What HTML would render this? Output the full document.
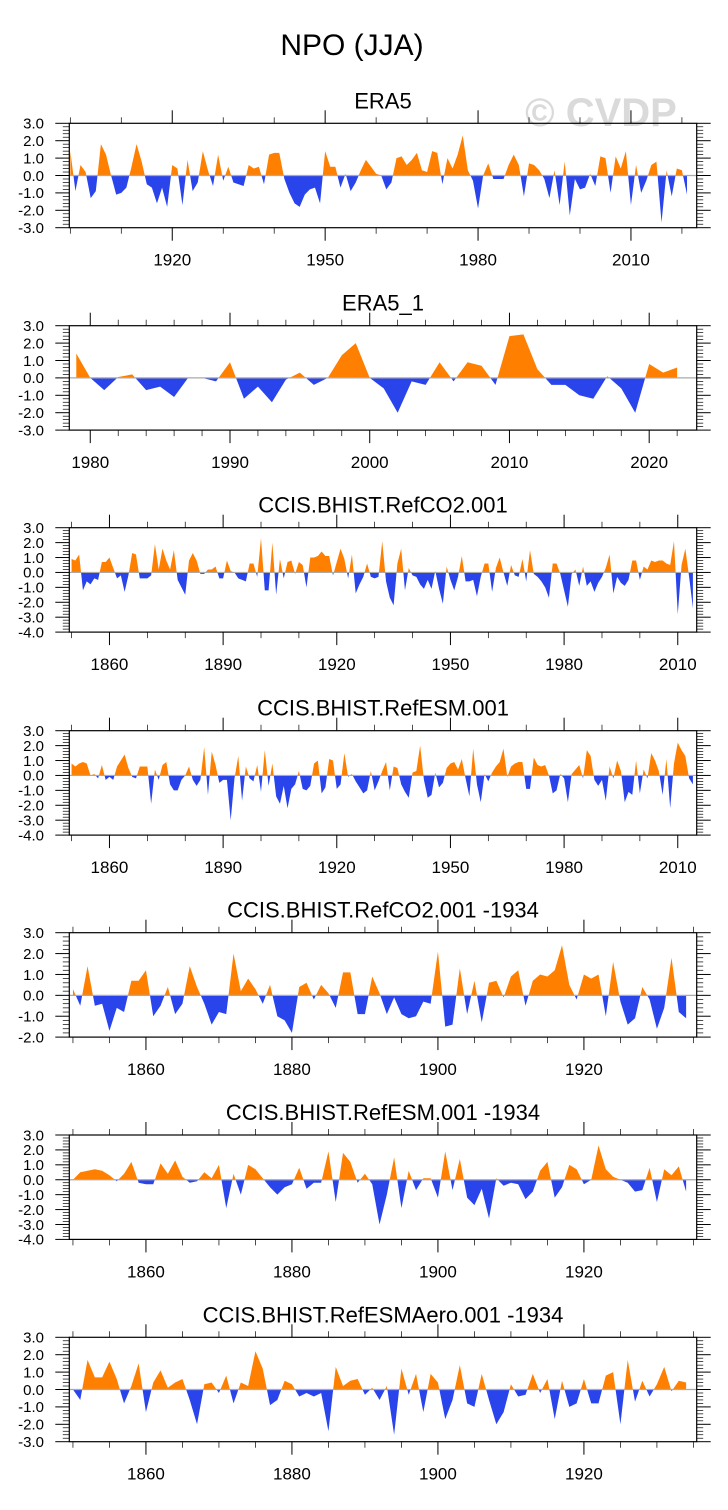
<!DOCTYPE html>
<html><head><meta charset="utf-8"><style>
html,body{margin:0;padding:0;background:#fff;}
svg{display:block;font-family:"Liberation Sans",Arial,sans-serif;}
</style></head><body>
<svg id="chart" width="728" height="1510" viewBox="0 0 728 1510">
<text x="352" y="55" font-size="30" text-anchor="middle" fill="#000">NPO (JJA)</text>
<text x="601" y="126" font-size="40" font-weight="bold" text-anchor="middle" fill="#dadada">© CVDP</text>
</svg>
<script>
const panelTitles = ["ERA5","ERA5_1","CCIS.BHIST.RefCO2.001","CCIS.BHIST.RefESM.001","CCIS.BHIST.RefCO2.001 -1934","CCIS.BHIST.RefESM.001 -1934","CCIS.BHIST.RefESMAero.001 -1934"];
const startYears = [1900,1979,1850,1850,1850,1850,1850];
const era5Values = [1.4,-0.9,0.6,0.2,-1.3,-0.9,1.8,1.2,0.0,-1.1,-1.0,-0.7,0.5,1.8,0.8,-0.5,-0.7,-1.6,-0.7,-1.8,0.6,0.4,-1.7,0.9,-0.9,-0.4,1.4,0.3,-0.6,1.2,-0.3,0.5,-0.4,-0.5,-0.6,0.6,0.4,0.5,-0.5,1.2,1.3,1.3,-0.2,-1.0,-1.6,-1.8,-1.1,-0.8,-0.7,-1.6,1.4,0.5,0.5,-0.7,0.1,-0.9,-0.4,0.3,0.9,0.5,0.1,0.0,-0.8,-0.4,1.0,1.1,0.6,0.9,1.3,0.3,0.2,1.4,1.3,-0.5,1.0,0.4,1.2,2.3,0.3,-0.3,-1.9,0.0,0.7,-0.2,-0.2,-0.2,0.6,1.2,0.6,-1.2,0.7,0.6,0.3,-0.2,-1.3,0.3,-1.7,0.8,-2.3,-0.2,-0.8,-0.7,0.1,-0.6,1.1,1.0,-1.0,1.1,0.4,1.4,-1.7,0.6,-1.0,-0.3,0.6,0.8,-2.7,0.3,-1.2,0.4,0.3,-1.1];
const era5_1Values = [1.4,0.0,-0.7,0.05,0.2,-0.7,-0.5,-1.1,0.0,0.0,-0.2,0.9,-1.2,-0.5,-1.4,-0.1,0.3,-0.4,0.0,1.3,2.0,0.0,-0.6,-2.0,-0.2,-0.4,0.9,-0.2,0.9,0.7,-0.4,2.4,2.5,0.5,-0.4,-0.4,-1.0,-1.2,0.1,-0.6,-2.0,0.8,0.3,0.6];
const refCO2Values = [0.9,0.8,1.2,-1.2,-0.6,-0.8,-0.4,-0.5,0.7,0.7,1.0,0.3,-0.4,-0.2,-1.3,-0.2,1.3,1.2,-0.4,-0.4,-0.4,-0.2,1.9,0.2,1.6,0.8,0.2,1.5,-0.5,-1.0,-1.5,0.8,1.3,0.8,-0.1,-0.1,0.2,0.2,0.4,-0.4,-0.4,0.8,0.1,0.0,-0.4,-0.5,-0.6,0.6,0.6,-0.3,2.3,-1.2,-1.2,2.0,-1.5,0.9,-0.4,0.7,0.8,-0.1,0.7,0.5,-1.0,1.0,1.0,1.1,1.4,1.1,1.1,-0.2,0.7,1.6,0.9,-0.4,1.2,-1.4,-0.8,-0.3,0.6,-0.3,-0.4,-0.3,2.1,-0.6,-1.7,-2.2,0.6,1.6,-1.2,0.3,-0.2,-0.3,-0.8,-1.1,-0.5,-1.1,0.1,-1.1,-2.1,0.4,-0.5,-1.2,-0.3,1.1,-0.6,-0.6,-0.5,-1.6,-0.3,0.6,0.6,-1.3,0.3,1.0,0.0,-0.9,0.5,-0.2,-0.3,0.9,-0.6,1.5,-0.1,-0.3,-0.6,-1.0,-1.7,0.6,0.6,-0.1,-1.2,-2.3,-0.1,0.2,-0.9,0.4,-0.9,-0.6,-1.3,-0.7,-0.3,0.3,1.2,-1.4,-0.3,-0.7,-0.9,-0.5,0.8,0.8,-0.5,0.4,0.2,0.8,0.7,0.8,0.8,0.6,0.5,2.1,-2.8,0.5,1.6,-0.3,-2.4];
const refESMValues = [0.8,0.6,0.8,0.9,0.8,0.0,0.1,-0.2,0.7,-0.3,-0.1,-0.3,0.6,1.0,1.4,0.5,-0.1,-0.2,0.6,0.6,0.6,-1.9,0.4,-0.3,0.7,0.9,-0.6,-1.0,-1.0,-0.3,0.0,0.6,-0.3,-0.7,-0.3,1.9,-1.3,1.6,0.7,-0.5,-0.3,-0.3,-3.0,-0.2,1.3,-1.7,0.6,-0.2,-0.4,0.7,-1.1,1.7,-0.7,0.8,-1.4,-1.9,-0.7,-2.2,-0.9,-0.6,0.3,-0.9,-1.0,-0.7,0.8,1.0,-1.2,-0.8,1.1,1.0,-0.9,-0.6,1.5,-0.1,0.1,-0.4,-0.8,-1.2,-1.0,0.3,-1.0,-0.4,0.3,0.9,-1.0,0.6,0.5,-0.6,-1.1,-1.5,0.2,0.3,2.0,-0.3,-1.5,-1.3,0.2,-0.8,-0.5,0.5,0.8,0.9,0.4,1.1,-0.2,-1.4,1.8,-0.6,-1.8,0.1,-0.4,0.2,0.6,0.9,1.8,-0.1,0.6,0.8,0.9,0.9,-0.9,-0.9,1.2,0.7,0.6,0.7,0.0,-1.2,-1.0,0.1,-0.2,-1.8,0.1,0.4,0.7,-0.2,1.7,1.3,-0.3,-0.7,-0.3,-1.7,0.6,-0.2,1.0,0.3,-1.8,-1.1,-1.3,1.0,-1.2,0.4,-0.2,1.5,1.0,0.3,-1.3,1.1,-2.2,0.8,2.2,1.7,1.3,-0.2,-0.6];
const refCO2to1934Values = [0.3,-0.5,1.4,-0.5,-0.4,-1.7,-0.6,-0.8,0.7,0.7,1.2,-1.0,-0.5,0.4,-0.9,-0.4,1.4,0.4,-0.4,-1.4,-0.8,-0.9,2.0,0.2,0.8,0.3,-0.4,0.5,-1.0,-1.2,-1.8,0.4,0.6,-0.2,0.5,0.1,-0.6,1.1,1.1,-0.9,-0.9,0.9,0.1,-0.9,-0.1,-0.9,-1.1,-1.0,-0.3,-0.4,2.1,-1.5,-1.4,1.3,-0.9,0.7,-1.3,0.6,0.7,-0.1,0.9,1.2,-0.5,0.7,1.0,0.9,1.2,2.4,0.5,-0.2,1.0,0.8,1.0,-1.0,1.6,-0.3,-1.4,-1.1,0.4,-0.2,-1.6,-0.6,1.8,-0.8,-1.1];
const refESMto1934Values = [0.0,0.5,0.6,0.7,0.6,0.3,-0.1,0.4,1.2,-0.2,-0.3,-0.3,1.1,0.4,1.3,0.2,-0.2,-0.1,0.5,0.1,1.0,-1.9,0.4,-1.0,1.0,0.7,0.1,-0.5,-1.0,-0.5,-0.3,0.8,-0.6,-0.2,-0.2,1.9,-1.5,1.8,1.2,-0.2,0.4,-0.3,-3.0,-1.0,1.5,-1.9,0.6,-0.7,0.1,0.1,-1.2,1.9,-0.7,1.4,-1.2,-1.7,-0.6,-2.6,0.1,-0.4,-0.2,-0.3,-1.3,-0.8,0.6,1.2,-1.2,-0.5,1.0,0.7,-0.3,0.0,2.3,0.7,0.2,0.0,-0.2,-0.8,-0.7,0.8,-1.5,0.7,0.3,0.9,-0.8];
const refESMAeroValues = [0.0,-0.6,1.7,0.7,0.7,1.6,0.6,-0.8,0.2,1.5,-1.3,0.4,1.1,0.1,0.4,0.6,-0.6,-2.0,0.3,0.4,-0.2,0.8,-0.8,0.4,0.2,2.2,1.2,-0.9,-0.6,0.5,0.3,-0.4,-0.2,-0.4,-0.2,-2.4,1.3,0.2,0.5,0.6,-0.3,0.1,-0.6,0.2,-2.6,1.2,-0.3,0.9,-1.3,0.9,0.4,-1.7,-0.6,1.4,-0.8,-1.0,0.9,-0.6,-2.0,-1.3,0.3,-0.4,-0.3,0.9,-0.2,0.6,-1.7,0.5,-1.0,-0.8,0.6,-0.8,-0.8,0.8,1.0,-2.0,1.7,-0.7,0.5,-0.4,0.3,1.3,-0.1,0.5,0.4];
const seriesValues = [era5Values,era5_1Values,refCO2Values,refESMValues,refCO2to1934Values,refESMto1934Values,refESMAeroValues];
const yMins = [-3,-3,-4,-4,-2,-4,-3];
const yMax = 3;
const xDomains = [[1899.8,2022.9],[1978.5,2023.4],[1849.4,2015.0],[1849.4,2015.0],[1849.5,1935.45],[1849.5,1935.45],[1849.5,1935.45]];
const xTickLabels = [[1920,1950,1980,2010],[1980,1990,2000,2010,2020],[1860,1890,1920,1950,1980,2010],[1860,1890,1920,1950,1980,2010],[1860,1880,1900,1920],[1860,1880,1900,1920],[1860,1880,1900,1920]];
const xMinorSteps = [10,2,10,10,5,5,5];

const NS="http://www.w3.org/2000/svg";
const svg=document.getElementById('chart');
const panelTops=[123.3,325.7,527.7,730.7,932.7,1135,1337.3];
const BX0=69.3,BX1=696.7,BH=104.4;
function mk(tag,attrs,parent){const e=document.createElementNS(NS,tag);for(const k in attrs)e.setAttribute(k,attrs[k]);(parent||svg).appendChild(e);return e;}

panelTitles.forEach((title,p)=>{
  const top=panelTops[p],bot=top+BH;
  const ymin=yMins[p];
  const [xa,xb]=xDomains[p];
  const xs=yr=>BX0+(yr-xa)/(xb-xa)*(BX1-BX0);
  const ys=v=>bot-(v-ymin)/(yMax-ymin)*BH;
  const g=mk('g',{});
  
  
  const t=mk('text',{x:(BX0+BX1)/2,y:top-15,'font-size':22,'text-anchor':'middle'},g);
  t.textContent=title;
  
  
  const z=ys(0);
  const vals=seriesValues[p];
  let d='M'+xs(startYears[p]).toFixed(2)+','+z.toFixed(2);
  vals.forEach((v,i)=>{d+=' L'+xs(startYears[p]+i).toFixed(2)+','+ys(v).toFixed(2);});
  d+=' L'+xs(startYears[p]+vals.length-1).toFixed(2)+','+z.toFixed(2)+' Z';
  const cpA=mk('clipPath',{id:'ca'+p},g);mk('rect',{x:BX0,y:top,width:BX1-BX0,height:z-top},cpA);
  const cpB=mk('clipPath',{id:'cb'+p},g);mk('rect',{x:BX0,y:z,width:BX1-BX0,height:bot-z},cpB);
  const pos=mk('path',{d:d,fill:'#ff8000','clip-path':'url(#ca'+p+')'},g);
  
  
  const neg=mk('path',{d:d,fill:'#2a44ec','clip-path':'url(#cb'+p+')'},g);
  
  
  const zl=mk('line',{x1:BX0,x2:BX1,y1:z,y2:z,stroke:'#aaaaaa','stroke-width':1.2},g);
  
  
  const box=mk('rect',{x:BX0,y:top,width:BX1-BX0,height:BH,fill:'none',stroke:'#000','stroke-width':1.2},g);
  
  
  for(let k=Math.round(ymin*5);k<=yMax*5;k++){
    const v=k/5,y=ys(v),major=(k%5===0),L=major?14:6.5;
    mk('line',{x1:BX0-L,x2:BX0,y1:y,y2:y,stroke:'#000','stroke-width':major?1:0.7},g);
    mk('line',{x1:BX1,x2:BX1+L,y1:y,y2:y,stroke:'#000','stroke-width':major?1:0.7},g);
    if(major){
      const lt=mk('text',{x:44,y:y+5.3,'font-size':15,'text-anchor':'end'},g);
      lt.textContent=v.toFixed(1);
      
      
    }
  }
  const st=xMinorSteps[p];
  for(let yr=Math.ceil(xa/st)*st;yr<=xb;yr+=st){
    const x=xs(yr),major=xTickLabels[p].includes(yr),L=major?13:6;
    mk('line',{x1:x,x2:x,y1:top-L,y2:top,stroke:'#000','stroke-width':major?1:0.7},g);
    mk('line',{x1:x,x2:x,y1:bot,y2:bot+L,stroke:'#000','stroke-width':major?1:0.7},g);
  }
  xTickLabels[p].forEach(yr=>{
    const lt=mk('text',{x:xs(yr),y:bot+38,'font-size':17,'text-anchor':'middle'},g);
    lt.textContent=yr;
    
    
  });
});
</script>
</body></html>
